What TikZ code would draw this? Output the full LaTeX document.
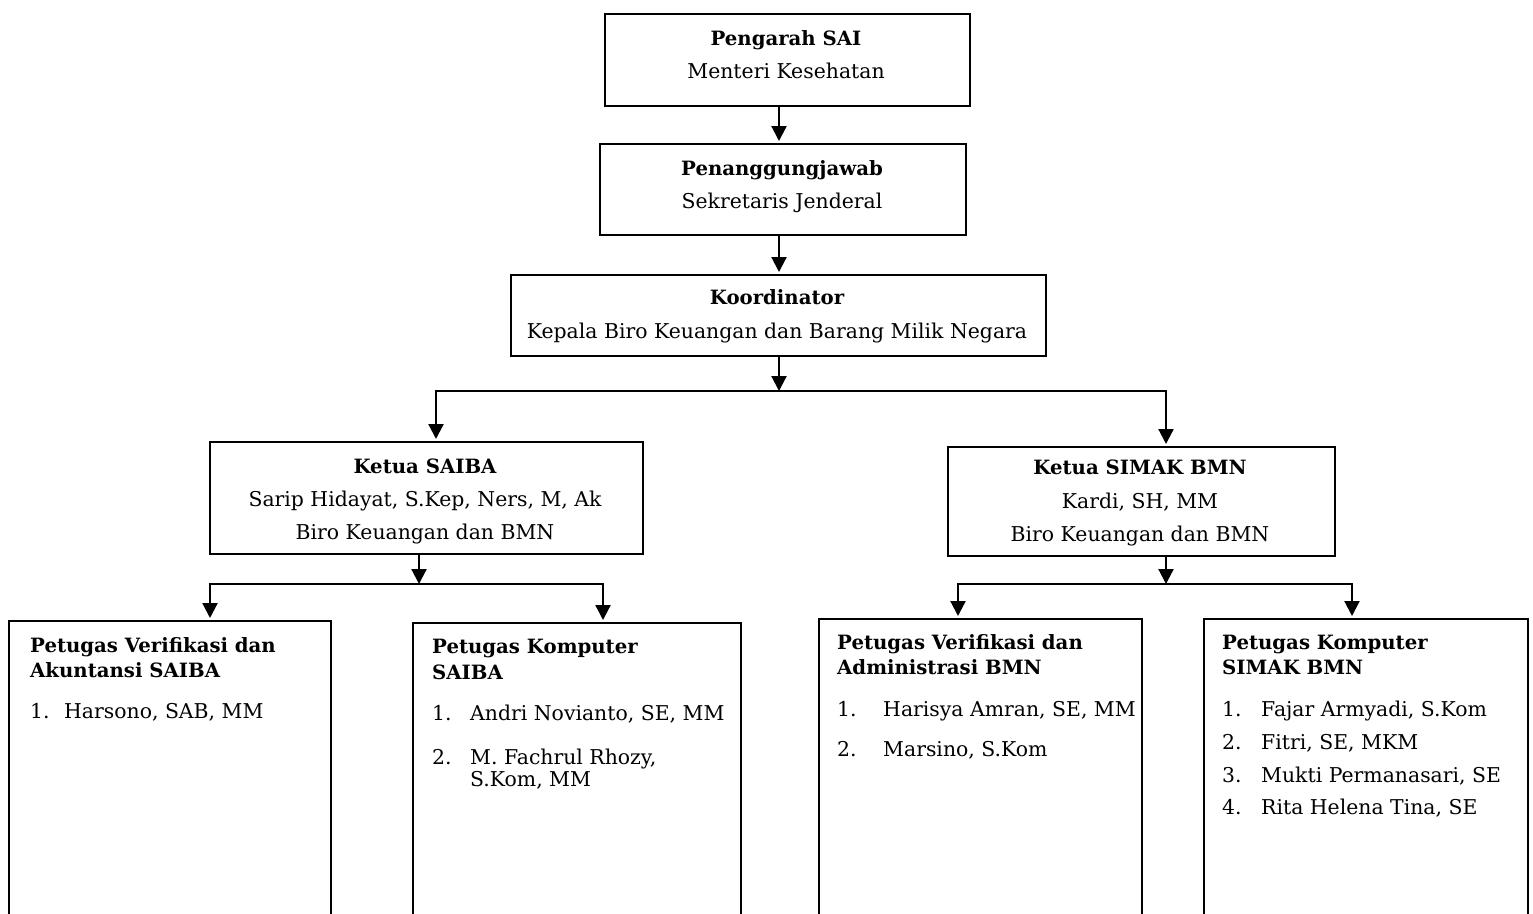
\documentclass[tikz,border=0pt]{standalone}
\usepackage{fontspec}
\setmainfont{DejaVu Serif}
\usetikzlibrary{arrows.meta}
\begin{document}
\begin{tikzpicture}[x=1pt,y=-1pt,
  box/.style={draw, line width=2pt, rectangle, inner sep=0pt, anchor=north west},
  arr/.style={line width=2.2pt, -{Triangle[width=15pt,length=15pt]}, shorten >=2pt},
  tt/.style={font=\fontsize{19.7}{23}\selectfont\bfseries, anchor=base, inner sep=0pt},
  tl/.style={font=\fontsize{19.7}{23}\selectfont\bfseries, anchor=base west, inner sep=0pt},
  tx/.style={font=\fontsize{20.4}{24}\selectfont, anchor=base, inner sep=0pt},
  li/.style={font=\fontsize{20.4}{24}\selectfont, anchor=base west, inner sep=0pt}]
\useasboundingbox (0,0) rectangle (1533,913);
\clip (0,0) rectangle (1533,913);
% boxes
\node[box, minimum width=365pt, minimum height=92pt] (b1) at (604,13) {};
\node[box, minimum width=366pt, minimum height=91pt] (b2) at (599,143) {};
\node[box, minimum width=535pt, minimum height=81pt] (b3) at (510,274) {};
\node[box, minimum width=433pt, minimum height=112pt] (ks) at (209,441) {};
\node[box, minimum width=387pt, minimum height=109pt] (km) at (947,446) {};
\node[box, minimum width=322pt, minimum height=320pt] (pa) at (8,620) {};
\node[box, minimum width=328pt, minimum height=320pt] (pb) at (412,622) {};
\node[box, minimum width=323pt, minimum height=320pt] (pc) at (818,618) {};
\node[box, minimum width=324pt, minimum height=320pt] (pd) at (1203,618) {};
% texts
\node[tt] (t1a) at (786,45) {Pengarah SAI};
\node[tx] (t1b) at (786,78) {Menteri Kesehatan};
\node[tt] (t2a) at (782,175) {Penanggungjawab};
\node[tx] (t2b) at (782,208) {Sekretaris Jenderal};
\node[tt] (t3a) at (777,304) {Koordinator};
\node[tx] (t3b) at (777,338) {Kepala Biro Keuangan dan Barang Milik Negara};
\node[tt] (t4a) at (425,473) {Ketua SAIBA};
\node[tx] (t4b) at (425,506) {Sarip Hidayat, S.Kep, Ners, M, Ak};
\node[tx] (t4c) at (425,539) {Biro Keuangan dan BMN};
\node[tt] (t5a) at (1140,474) {Ketua SIMAK BMN};
\node[tx] (t5b) at (1140,508) {Kardi, SH, MM};
\node[tx] (t5c) at (1140,541) {Biro Keuangan dan BMN};
% box A
\node[tl] (pa1) at (30,652) {Petugas Verifikasi dan};
\node[tl] (pa2) at (30,677) {Akuntansi SAIBA};
\node[li] (pan1) at (30,718) {1.};
\node[li] (pai1) at (64,718) {Harsono, SAB, MM};
% box B
\node[tl] (pb1) at (432,653) {Petugas Komputer};
\node[tl] (pb2) at (432,679) {SAIBA};
\node[li] (pbn1) at (432,720) {1.};
\node[li] (pbi1) at (470,720) {Andri Novianto, SE, MM};
\node[li] (pbn2) at (432,764) {2.};
\node[li] (pbi2) at (470,764) {M. Fachrul Rhozy,};
\node[li] (pbi2b) at (470,786) {S.Kom, MM};
% box C
\node[tl] (pc1) at (837,649) {Petugas Verifikasi dan};
\node[tl] (pc2) at (837,674) {Administrasi BMN};
\node[li] (pcn1) at (837,716) {1.};
\node[li] (pci1) at (883,716) {Harisya Amran, SE, MM};
\node[li] (pcn2) at (837,756) {2.};
\node[li] (pci2) at (883,756) {Marsino, S.Kom};
% box D
\node[tl] (pd1) at (1222,649) {Petugas Komputer};
\node[tl] (pd2) at (1222,674) {SIMAK BMN};
\node[li] (pdn1) at (1222,716) {1.};
\node[li] (pdi1) at (1261,716) {Fajar Armyadi, S.Kom};
\node[li] (pdn2) at (1222,749) {2.};
\node[li] (pdi2) at (1261,749) {Fitri, SE, MKM};
\node[li] (pdn3) at (1222,782) {3.};
\node[li] (pdi3) at (1261,782) {Mukti Permanasari, SE};
\node[li] (pdn4) at (1222,814) {4.};
\node[li] (pdi4) at (1261,814) {Rita Helena Tina, SE};
% connectors
\coordinate (ax) at (779,0);
\draw[arr] (b1.south -| ax) -- (b2.north -| ax);
\draw[arr] (b2.south -| ax) -- (b3.north -| ax);
\coordinate (j1) at (779,391);
\coordinate (cL) at (436,0);
\coordinate (cR) at (1166,0);
\draw[arr, shorten >=0pt] (b3.south -| ax) -- (j1);
\draw[arr] (j1) -| (ks.north -| cL);
\draw[arr] (j1) -| (km.north -| cR);
\coordinate (j2) at (419,584);
\coordinate (cA) at (210,0);
\coordinate (cB) at (603,0);
\draw[arr, shorten >=0pt] (ks.south -| j2) -- (j2);
\draw[arr] (j2) -| (pa.north -| cA);
\draw[arr] (j2) -| (pb.north -| cB);
\coordinate (j3) at (1166,584);
\coordinate (cC) at (958,0);
\coordinate (cD) at (1352,0);
\draw[arr, shorten >=0pt] (km.south -| j3) -- (j3);
\draw[arr] (j3) -| (pc.north -| cC);
\draw[arr] (j3) -| (pd.north -| cD);
\end{tikzpicture}
\end{document}
